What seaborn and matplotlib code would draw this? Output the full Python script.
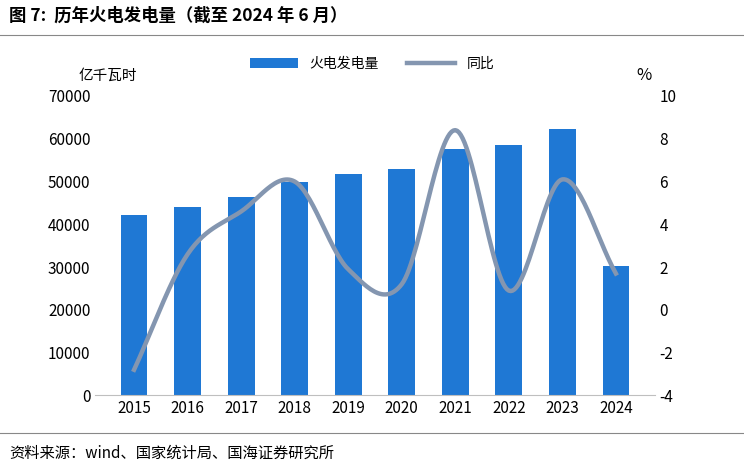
import numpy as np
import pandas as pd
import matplotlib
matplotlib.use("Agg")
import matplotlib.pyplot as plt
import seaborn as sns

plt.rcParams["font.family"] = ["Noto Sans CJK SC"]
plt.rcParams["axes.unicode_minus"] = False

years = ["2015","2016","2017","2018","2019","2020","2021","2022","2023","2024"]
generation = [42200, 44000, 46300, 49800, 51700, 53000, 57700, 58500, 62300, 30200]
yoy = [-2.8, 2.6, 4.6, 6.0, 1.9, 1.2, 8.4, 0.9, 6.1, 1.7]

df = pd.DataFrame({"year": years, "gen": generation, "yoy": yoy})

fig = plt.figure(figsize=(7.44, 4.68), dpi=100)
ax = fig.add_axes([0.128, 0.155, 0.752, 0.64])
sns.barplot(data=df, x="year", y="gen", color="#1F78D4", width=0.5, ax=ax,
            saturation=1, label="火电发电量")
ax.set_ylim(0, 70000)
ax.set_yticks(range(0, 70001, 10000))
ax.set_xlabel(""); ax.set_ylabel("")
for s in ["top", "right", "left"]:
    ax.spines[s].set_visible(False)
ax.spines["bottom"].set_color("#BFBFBF")
ax.tick_params(axis="both", length=0, labelsize=11)

ax2 = ax.twinx()
x = np.arange(len(yoy)); y = np.array(yoy, float)
px = np.concatenate([[2*x[0]-x[1]], x, [2*x[-1]-x[-2]]])
py = np.concatenate([[2*y[0]-y[1]], y, [2*y[-1]-y[-2]]])
xs, ys = [], []
t = np.linspace(0, 1, 30)
for i in range(1, len(px)-2):
    for arr, out in ((px, xs), (py, ys)):
        p0, p1, p2, p3 = arr[i-1:i+3]
        out.extend(0.5*((2*p1) + (-p0+p2)*t + (2*p0-5*p1+4*p2-p3)*t**2 + (-p0+3*p1-3*p2+p3)*t**3))
sns.lineplot(x=xs, y=ys, ax=ax2, color="#8496B0", linewidth=3.2, label="同比", sort=False)
ax2.set_ylim(-4, 10)
ax2.set_yticks(range(-4, 11, 2))
for s in ["top", "right", "left", "bottom"]:
    ax2.spines[s].set_visible(False)
ax2.tick_params(axis="y", length=0, labelsize=11)

h1, l1 = ax.get_legend_handles_labels()
h2, l2 = ax2.get_legend_handles_labels()
for a in (ax, ax2):
    if a.get_legend() is not None:
        a.get_legend().remove()
fig.legend(h1 + h2, l1 + l2, loc="upper center", bbox_to_anchor=(0.5, 0.905), ncol=2,
           frameon=False, fontsize=10, handlelength=3.5, columnspacing=2)

fig.text(0.105, 0.83, "亿千瓦时", fontsize=10.5)
fig.text(0.855, 0.83, "%", fontsize=12)
fig.text(0.012, 0.955, "图 7:  历年火电发电量（截至 2024 年 6 月）", fontsize=12.5, fontweight="bold")
fig.add_artist(plt.Line2D([0.0, 1.0], [0.925, 0.925], color="#888888", lw=0.8))
fig.text(0.012, 0.022, "资料来源：wind、国家统计局、国海证券研究所", fontsize=11)
fig.add_artist(plt.Line2D([0.0, 1.0], [0.075, 0.075], color="#888888", lw=0.8))

fig.savefig("out.png", dpi=100)
